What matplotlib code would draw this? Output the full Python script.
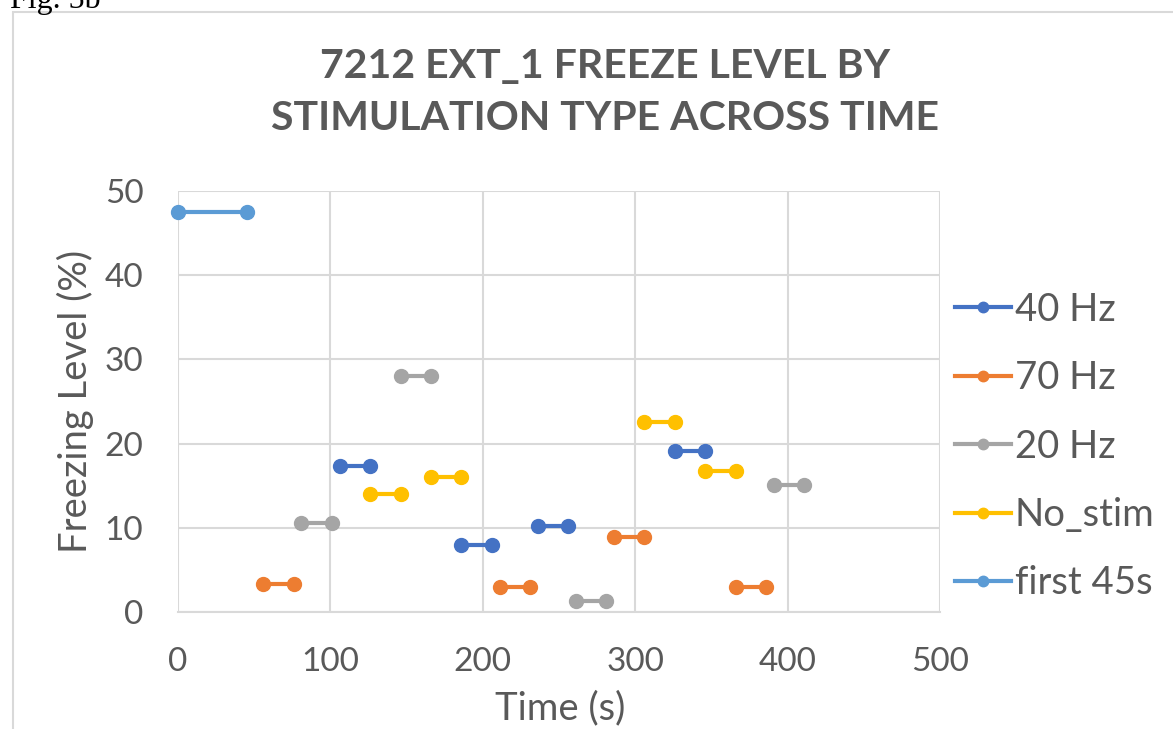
import numpy as np
import matplotlib
matplotlib.use("Agg")
import matplotlib.pyplot as plt
from matplotlib.patches import Rectangle

# ---- data ----
series_names = ["40 Hz", "70 Hz", "20 Hz", "No_stim", "first 45s"]
colors = ["#4472C4", "#ED7D31", "#A5A5A5", "#FFC000", "#5B9BD5"]

# each segment: (start time, end time, freezing level)
seg_40 = [(106, 126, 17.3), (186, 206, 8.0), (236, 256, 10.2), (326, 346, 19.1)]
seg_70 = [(56, 76, 3.3), (211, 231, 3.0), (286, 306, 8.9), (366, 386, 3.0)]
seg_20 = [(81, 101, 10.6), (146, 166, 28.0), (261, 281, 1.3), (391, 411, 15.1)]
seg_nostim = [(126, 146, 14.0), (166, 186, 16.0), (306, 326, 22.6), (346, 366, 16.7)]
seg_first = [(0, 45, 47.5)]
all_segments = [seg_40, seg_70, seg_20, seg_nostim, seg_first]

x_ticks = [0, 100, 200, 300, 400, 500]
y_ticks = [0, 10, 20, 30, 40, 50]

title = "7212 EXT_1 FREEZE LEVEL BY\nSTIMULATION TYPE ACROSS TIME"
xlabel = "Time (s)"
ylabel = "Freezing Level (%)"

W, H = 1173, 729
fig = plt.figure(figsize=(W / 100, H / 100), dpi=100)
txt = "#595959"
grid_c = "#D9D9D9"
font = "Lato"

# chart border
fig.add_artist(Rectangle((13 / W, -0.05), 1.2, (H - 12) / H + 0.05,
                         transform=fig.transFigure, fill=False,
                         edgecolor="#D9D9D9", lw=1.5))
fig.text(10 / W, 1 - 8 / H, "Fig. 5b", family="Liberation Serif",
         fontsize=23, va="baseline", ha="left", color="black")

ax = fig.add_axes([178 / W, 1 - 612 / H, (940 - 178) / W, (612 - 191) / H])

for name, segs, c in zip(series_names, all_segments, colors):
    xs, ys = [], []
    for s, e, v in segs:
        xs += [s, e, np.nan]
        ys += [v, v, np.nan]
    ax.plot(xs, ys, color=c, lw=3, marker="o", markersize=10,
            label=name, clip_on=False, zorder=3)

ax.set_xlim(0, 500)
ax.set_ylim(0, 50)
ax.set_xticks(x_ticks)
ax.set_yticks(y_ticks)
ax.grid(True, color=grid_c, lw=1.5)
ax.set_axisbelow(True)
for sp in ["top", "right", "left"]:
    ax.spines[sp].set_visible(False)
ax.spines["bottom"].set_color(grid_c)
ax.spines["bottom"].set_linewidth(1.5)
ax.tick_params(length=0, labelsize=24, labelcolor=txt, pad=25)
for lbl in ax.get_xticklabels() + ax.get_yticklabels():
    lbl.set_family(font)

ax.set_xlabel(xlabel, fontsize=27.5, color=txt, family=font)
ax.set_ylabel(ylabel, fontsize=27.5, color=txt, family=font)
ax.xaxis.set_label_coords(0.501, -0.228)
ax.xaxis.label.set_va("center")
ax.yaxis.set_label_coords(-0.135, 0.5)
ax.yaxis.label.set_va("center")

fig.text(605 / W, 1 - 93 / H, title, ha="center", va="center",
         fontsize=29.5, fontweight="bold", color=txt, family=font,
         linespacing=1.5)

leg = ax.legend(loc="center left", bbox_to_anchor=(0.975, 0.393), frameon=False,
                handlelength=1.45, handletextpad=0.1, labelspacing=0.85,
                markerscale=0.75, prop={"family": font, "size": 27.5})
for t in leg.get_texts():
    t.set_color(txt)

fig.savefig("out.png", dpi=100)
